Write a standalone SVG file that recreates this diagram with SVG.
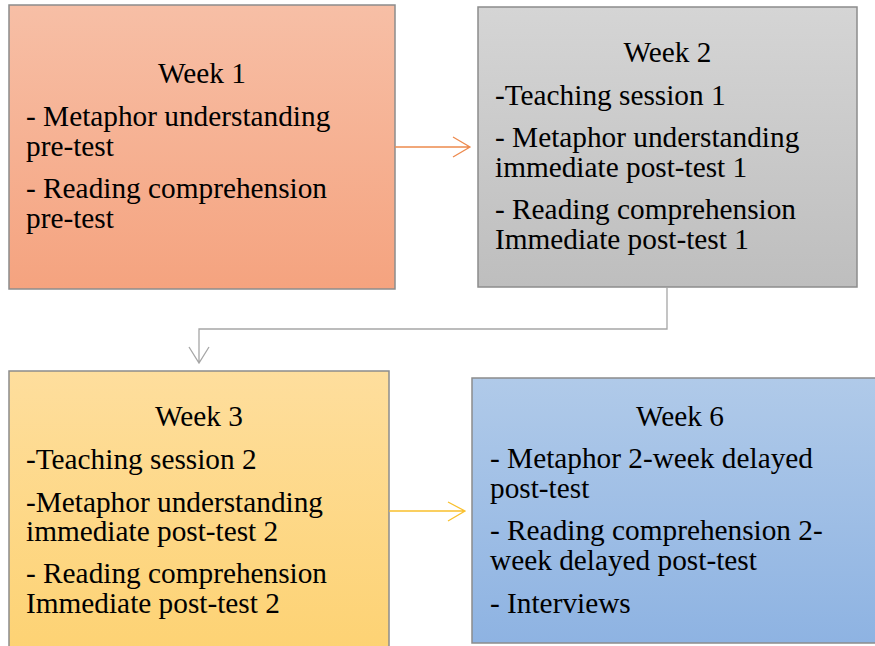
<svg xmlns="http://www.w3.org/2000/svg" width="875" height="646" viewBox="0 0 875 646">
  <defs>
    <linearGradient id="gWeek1" x1="0" y1="0" x2="0" y2="1">
      <stop offset="0" stop-color="#F7BFA6"/>
      <stop offset="1" stop-color="#F5A37F"/>
    </linearGradient>
    <linearGradient id="gWeek2" x1="0" y1="0" x2="0" y2="1">
      <stop offset="0" stop-color="#D5D5D5"/>
      <stop offset="1" stop-color="#BEBEBE"/>
    </linearGradient>
    <linearGradient id="gWeek3" x1="0" y1="0" x2="0" y2="1">
      <stop offset="0" stop-color="#FEDE9D"/>
      <stop offset="1" stop-color="#FDD272"/>
    </linearGradient>
    <linearGradient id="gWeek6" x1="0" y1="0" x2="0" y2="1">
      <stop offset="0" stop-color="#B0CAE9"/>
      <stop offset="1" stop-color="#8EB3E2"/>
    </linearGradient>
  </defs>
  <style>
    .box { stroke: #8C8C8C; stroke-width: 1.5; }
    .t { font-family: "Liberation Serif", "Times New Roman", serif; font-size: 29.3px; fill: #000; }
    .c { text-anchor: middle; }
    .conn { fill: none; stroke-width: 1.3; }
  </style>

  <g id="week1">
    <rect class="box" x="9" y="5" width="386" height="284" fill="url(#gWeek1)"/>
    <text class="t c" x="202" y="83">Week 1</text>
    <text class="t" x="26" y="126">- Metaphor understanding</text>
    <text class="t" x="26" y="156">pre-test</text>
    <text class="t" x="26" y="198">- Reading comprehension</text>
    <text class="t" x="26" y="228">pre-test</text>
  </g>

  <g id="week2">
    <rect class="box" x="478" y="7" width="379" height="280" fill="url(#gWeek2)"/>
    <text class="t c" x="667.5" y="62">Week 2</text>
    <text class="t" x="495" y="105">-Teaching session 1</text>
    <text class="t" x="495" y="147">- Metaphor understanding</text>
    <text class="t" x="495" y="177">immediate post-test 1</text>
    <text class="t" x="495" y="219">- Reading comprehension</text>
    <text class="t" x="495" y="249">Immediate post-test 1</text>
  </g>

  <g id="week3">
    <rect class="box" x="9" y="371" width="380" height="290" fill="url(#gWeek3)"/>
    <text class="t c" x="199" y="426">Week 3</text>
    <text class="t" x="26" y="469">-Teaching session 2</text>
    <text class="t" x="26" y="512">-Metaphor understanding</text>
    <text class="t" x="26" y="541">immediate post-test 2</text>
    <text class="t" x="26" y="583">- Reading comprehension</text>
    <text class="t" x="26" y="613">Immediate post-test 2</text>
  </g>

  <g id="week6">
    <rect class="box" x="472" y="378" width="416" height="265" fill="url(#gWeek6)" stroke="#6E7C90"/>
    <text class="t c" x="680" y="426">Week 6</text>
    <text class="t" x="490" y="468">- Metaphor 2-week delayed</text>
    <text class="t" x="490" y="498">post-test</text>
    <text class="t" x="490" y="540">- Reading comprehension 2-</text>
    <text class="t" x="490" y="570">week delayed post-test</text>
    <text class="t" x="490" y="613">- Interviews</text>
  </g>

  <g id="connectors">
    <!-- week 1 to week 2 -->
    <path class="conn" stroke="#ED8A4E" d="M395 147 H470 M453 137 L470 147 L453 157"/>
    <!-- week 2 down and back to week 3 -->
    <path class="conn" stroke="#A6A6A6" d="M667 287 V329 H199 V363 M189 347 L199 363 L209 347"/>
    <!-- week 3 to week 6 -->
    <path class="conn" stroke="#F9C02D" d="M389 511 H465 M448 502 L465 511 L448 521"/>
  </g>
</svg>
